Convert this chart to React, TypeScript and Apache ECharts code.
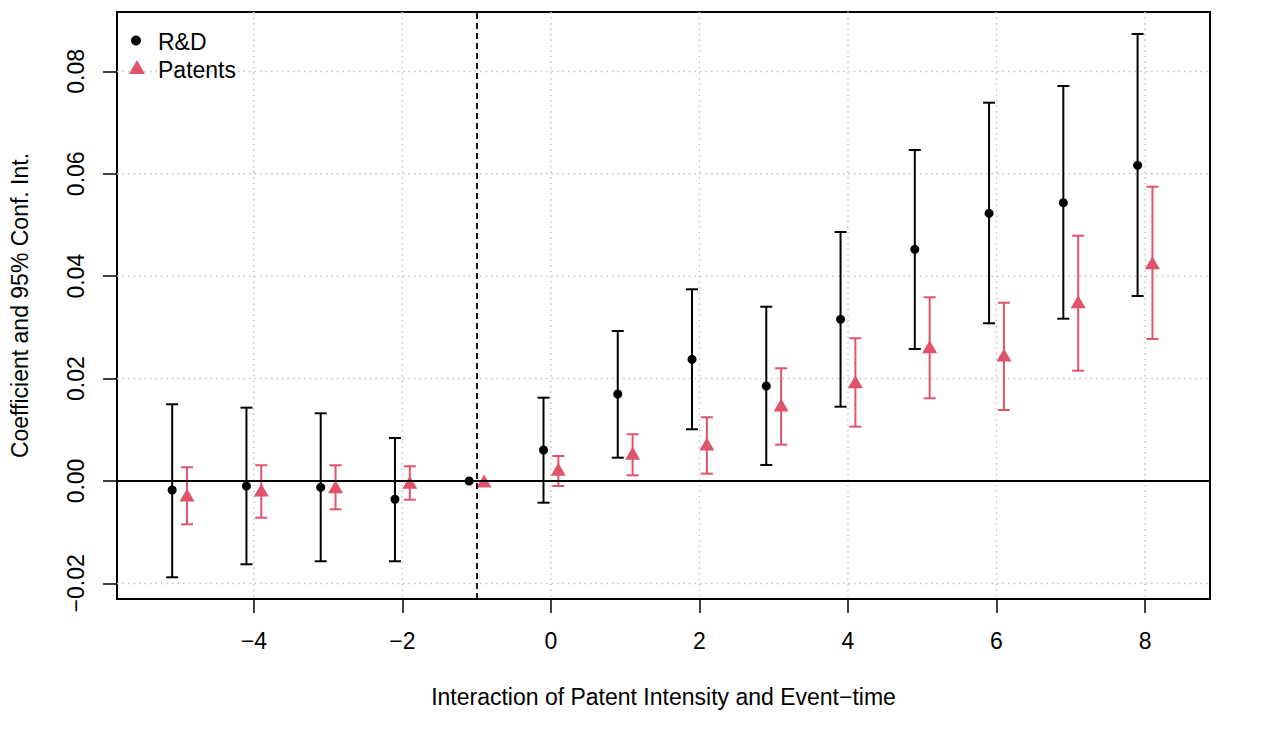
import React, { useEffect, useRef } from "react";
import * as echarts from "echarts";

const eventTimes = [-5, -4, -3, -2, -1, 0, 1, 2, 3, 4, 5, 6, 7, 8];
const rdCoef = [-0.00176, -0.00098, -0.00123, -0.00357, 0, 0.00605, 0.01699, 0.02377, 0.01855, 0.03158, 0.04525, 0.05228, 0.05436, 0.06166];
const rdLow = [-0.01881, -0.01627, -0.01568, -0.01568, null, -0.00424, 0.00455, 0.0101, 0.00313, 0.01451, 0.02578, 0.0308, 0.0317, 0.03613];
const rdHigh = [0.01498, 0.01432, 0.01322, 0.0084, null, 0.01627, 0.0293, 0.03744, 0.03404, 0.04863, 0.06465, 0.07389, 0.07715, 0.0873];
const patCoef = [-0.00273, -0.00176, -0.00111, -0.00025, 0, 0.00229, 0.00541, 0.00723, 0.01484, 0.01939, 0.02623, 0.02461, 0.03502, 0.04264];
const patLow = [-0.00846, -0.00717, -0.00553, -0.00365, null, -0.00098, 0.00111, 0.00143, 0.00709, 0.01061, 0.01615, 0.01387, 0.02154, 0.02773];
const patHigh = [0.00268, 0.00307, 0.00307, 0.00287, null, 0.00488, 0.00912, 0.01244, 0.02201, 0.02787, 0.03588, 0.03482, 0.04791, 0.05748];

const xTicks = [-4, -2, 0, 2, 4, 6, 8];
const yTicks = [-0.02, 0, 0.02, 0.04, 0.06, 0.08];

const PINK = "#DF536B";
const FONT = "Liberation Sans";
const FS = 23;
const OFFSET = 0.1;

const minus = (s: string) => s.replace("-", "\u2212");

export default function App() {
  const ref = useRef<HTMLDivElement>(null);
  useEffect(() => {
    document.body.style.margin = "0";
    const chart = echarts.init(ref.current!, null, { renderer: "svg" });

    const rdPts = eventTimes.map((t, i) => [t - OFFSET, rdCoef[i]]);
    const patPts = eventTimes.map((t, i) => [t + OFFSET, patCoef[i]]);
    const rdBars = eventTimes
      .map((t, i) => [t - OFFSET, rdLow[i], rdHigh[i]])
      .filter((d) => d[1] !== null);
    const patBars = eventTimes
      .map((t, i) => [t + OFFSET, patLow[i], patHigh[i]])
      .filter((d) => d[1] !== null);

    const errRender = (color: string) => (params: any, api: any) => {
      const x = api.value(0);
      const lo = api.value(1);
      const hi = api.value(2);
      const p1 = api.coord([x, hi]);
      const p2 = api.coord([x, lo]);
      const w = 6;
      const st = { stroke: color, lineWidth: 2 };
      return {
        type: "group",
        children: [
          { type: "line", shape: { x1: p1[0], y1: p1[1], x2: p2[0], y2: p2[1] }, style: st },
          { type: "line", shape: { x1: p1[0] - w, y1: p1[1], x2: p1[0] + w, y2: p1[1] }, style: st },
          { type: "line", shape: { x1: p2[0] - w, y1: p2[1], x2: p2[0] + w, y2: p2[1] }, style: st },
        ],
      };
    };

    const gridStyle = { stroke: "#C4C4C4", lineWidth: 1.5, lineDash: [1.5, 4] };
    const txt = { fontSize: FS, fontFamily: FONT, color: "#000" };

    chart.setOption({
      animation: false,
      grid: {
        left: 116,
        top: 12,
        right: 59,
        bottom: 144,
        show: true,
        borderColor: "#000",
        borderWidth: 2,
        backgroundColor: "transparent",
      },
      xAxis: {
        type: "value",
        min: -5.843,
        max: 8.875,
        splitLine: { show: false },
        axisLine: { show: false, onZero: false },
        axisTick: { show: true, length: 14, customValues: xTicks, lineStyle: { color: "#000", width: 1.5 } },
        axisLabel: {
          customValues: xTicks,
          margin: 30,
          ...txt,
          formatter: (v: number) => minus(String(v)),
        },
        name: "Interaction of Patent Intensity and Event\u2212time",
        nameLocation: "middle",
        nameGap: 86,
        nameTextStyle: txt,
      },
      yAxis: {
        type: "value",
        min: -0.02305,
        max: 0.0916,
        splitLine: { show: false },
        axisLine: { show: false, onZero: false },
        axisTick: { show: true, length: 14, customValues: yTicks, lineStyle: { color: "#000", width: 1.5 } },
        axisLabel: {
          customValues: yTicks,
          rotate: 90,
          margin: 30,
          ...txt,
          formatter: (v: number) => minus(v.toFixed(2)),
        },
        name: "Coefficient and 95% Conf. Int.",
        nameLocation: "middle",
        nameGap: 86,
        nameRotate: 90,
        nameTextStyle: txt,
      },
      series: [
        {
          type: "custom",
          name: "vgrid",
          z: 1,
          silent: true,
          data: xTicks.map((t) => [t, 0]),
          encode: { x: 0, y: 1 },
          renderItem: (params: any, api: any) => {
            const p = api.coord([api.value(0), 0]);
            const cs = params.coordSys;
            return { type: "line", shape: { x1: p[0], y1: cs.y, x2: p[0], y2: cs.y + cs.height }, style: gridStyle };
          },
        },
        {
          type: "custom",
          name: "hgrid",
          z: 1,
          silent: true,
          data: yTicks.map((t) => [0, t]),
          encode: { x: 0, y: 1 },
          renderItem: (params: any, api: any) => {
            const p = api.coord([0, api.value(1)]);
            const cs = params.coordSys;
            return { type: "line", shape: { x1: cs.x, y1: p[1], x2: cs.x + cs.width, y2: p[1] }, style: gridStyle };
          },
        },
        {
          type: "custom",
          name: "R&D CI",
          z: 3,
          silent: true,
          data: rdBars,
          encode: { x: 0, y: [1, 2] },
          renderItem: errRender("#000"),
        },
        {
          type: "custom",
          name: "Patents CI",
          z: 3,
          silent: true,
          data: patBars,
          encode: { x: 0, y: [1, 2] },
          renderItem: errRender(PINK),
        },
        {
          type: "scatter",
          name: "R&D",
          z: 4,
          symbol: "circle",
          symbolSize: 9,
          itemStyle: { color: "#000", opacity: 1 },
          data: rdPts,
          markLine: {
            silent: true,
            symbol: ["none", "none"],
            label: { show: false },
            animation: false,
            data: [
              { yAxis: 0, lineStyle: { color: "#000", width: 2, type: "solid" } },
              { xAxis: -1, lineStyle: { color: "#000", width: 1.8, type: [6, 4] } },
            ],
          },
        },
        {
          type: "scatter",
          name: "Patents",
          z: 4,
          symbol: "triangle",
          symbolSize: [15, 13],
          itemStyle: { color: PINK, opacity: 1 },
          data: patPts,
        },
      ],
      graphic: [
        { type: "circle", shape: { cx: 136, cy: 40.5, r: 5 }, style: { fill: "#000" }, z: 10 },
        {
          type: "text",
          x: 158,
          y: 41.5,
          style: { text: "R&D", fontSize: FS, fontFamily: FONT, fill: "#000", verticalAlign: "middle", textAlign: "left" },
          z: 10,
        },
        {
          type: "polygon",
          shape: { points: [[137, 60], [145, 74], [129, 74]] },
          style: { fill: PINK },
          z: 10,
        },
        {
          type: "text",
          x: 158,
          y: 69.5,
          style: { text: "Patents", fontSize: FS, fontFamily: FONT, fill: "#000", verticalAlign: "middle", textAlign: "left" },
          z: 10,
        },
      ],
    });
    return () => chart.dispose();
  }, []);
  return <div ref={ref} style={{ width: 1269, height: 743 }} />;
}
